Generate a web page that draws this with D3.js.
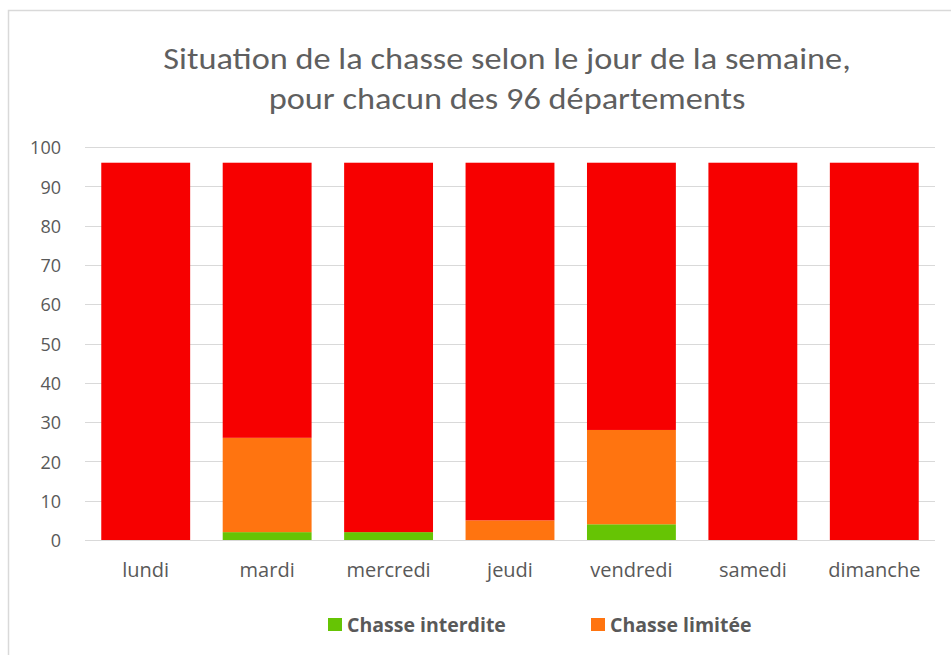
<!DOCTYPE html>
<html>
<head>
<meta charset="utf-8">
<script src="https://cdn.jsdelivr.net/npm/d3@7"></script>
<style>
  body { margin: 0; background: #fff; }
</style>
</head>
<body>
<div id="chart"></div>
<script>
// jours de la semaine
const jours = ["lundi", "mardi", "mercredi", "jeudi", "vendredi", "samedi", "dimanche"];
// nombre de départements par situation
const interdite = [0, 2, 2, 0, 4, 0, 0];
const limitee = [0, 24, 0, 5, 24, 0, 0];
const autorisee = [96, 70, 94, 91, 68, 96, 96];
const yTicks = [0, 10, 20, 30, 40, 50, 60, 70, 80, 90, 100];
const titre = ["Situation de la chasse selon le jour de la semaine,", "pour chacun des 96 départements"];

const series = [
  { key: "interdite", label: "Chasse interdite", values: interdite, color: "#66c404", legend: true },
  { key: "limitee", label: "Chasse limitée", values: limitee, color: "#ff7410", legend: true },
  { key: "autorisee", label: "Chasse autorisée", values: autorisee, color: "#f70000", legend: false }
];

const width = 951, height = 655;
const margin = { top: 147, left: 85, right: 16, bottom: 115 };
const axisFont = "'Open Sans', 'Segoe UI', sans-serif";

const table = jours.map((j, i) => {
  const row = { jour: j };
  series.forEach(s => row[s.key] = s.values[i]);
  return row;
});

const svg = d3.select("#chart").append("svg")
  .attr("width", width)
  .attr("height", height)
  .attr("font-family", axisFont);

// cadre du graphique
svg.append("path")
  .attr("d", `M8.5,${height} V10.5 H${width}`)
  .attr("fill", "none")
  .attr("stroke", "#d9d9d9")
  .attr("stroke-width", 1.5);

const x = d3.scaleBand(jours, [margin.left, width - margin.right]).paddingInner(0.268).paddingOuter(0.134);
const y = d3.scaleLinear([0, 100], [height - margin.bottom, margin.top]);

// grille
svg.append("g")
  .selectAll("line")
  .data(yTicks)
  .join("line")
  .attr("x1", margin.left)
  .attr("x2", width - margin.right)
  .attr("y1", d => Math.round(y(d)) + 0.5)
  .attr("y2", d => Math.round(y(d)) + 0.5)
  .attr("stroke", "#d9d9d9")
  .attr("stroke-width", 1.2);

// barres empilées
const stack = d3.stack().keys(series.map(s => s.key))(table);
svg.append("g")
  .selectAll("g")
  .data(stack)
  .join("g")
  .attr("fill", (d, i) => series[i].color)
  .selectAll("rect")
  .data(d => d)
  .join("rect")
  .attr("x", d => x(d.data.jour))
  .attr("width", x.bandwidth())
  .attr("y", d => y(d[1]))
  .attr("height", d => y(d[0]) - y(d[1]));

// axe Y
const yAxis = svg.append("g")
  .attr("transform", `translate(${margin.left - 24},1)`)
  .call(d3.axisLeft(y).tickValues(yTicks).tickSize(0).tickPadding(0));
yAxis.select(".domain").remove();
yAxis.selectAll("text")
  .attr("font-size", 18)
  .attr("fill", "#595959")
  .attr("font-family", axisFont);

// axe X
const xAxis = svg.append("g")
  .attr("transform", `translate(0,${height - margin.bottom})`)
  .call(d3.axisBottom(x).tickSize(0).tickPadding(23));
xAxis.select(".domain").remove();
xAxis.selectAll("text")
  .attr("font-size", 20)
  .attr("fill", "#595959")
  .attr("font-family", axisFont);

// titre
svg.append("g")
  .selectAll("text")
  .data(titre)
  .join("text")
  .attr("transform", (d, i) => `translate(507,${69 + i * 40}) scale(1.107,1)`)
  .attr("text-anchor", "middle")
  .attr("fill", "#5f5f5f")
  .attr("font-family", "Carlito, Calibri, Lato, sans-serif")
  .attr("font-size", 31)
  .text(d => d);

// légende
const legendItems = series.filter(s => s.legend);
const legend = svg.append("g")
  .selectAll("g")
  .data(legendItems)
  .join("g")
  .attr("transform", (d, i) => `translate(${328 + i * 263},${618})`);
legend.append("rect")
  .attr("width", 14)
  .attr("height", 13)
  .attr("fill", d => d.color);
legend.append("text")
  .attr("x", 19)
  .attr("y", 13.5)
  .attr("font-size", 19.5)
  .attr("font-weight", "bold")
  .attr("fill", "#595959")
  .text(d => d.label);
</script>
</body>
</html>
